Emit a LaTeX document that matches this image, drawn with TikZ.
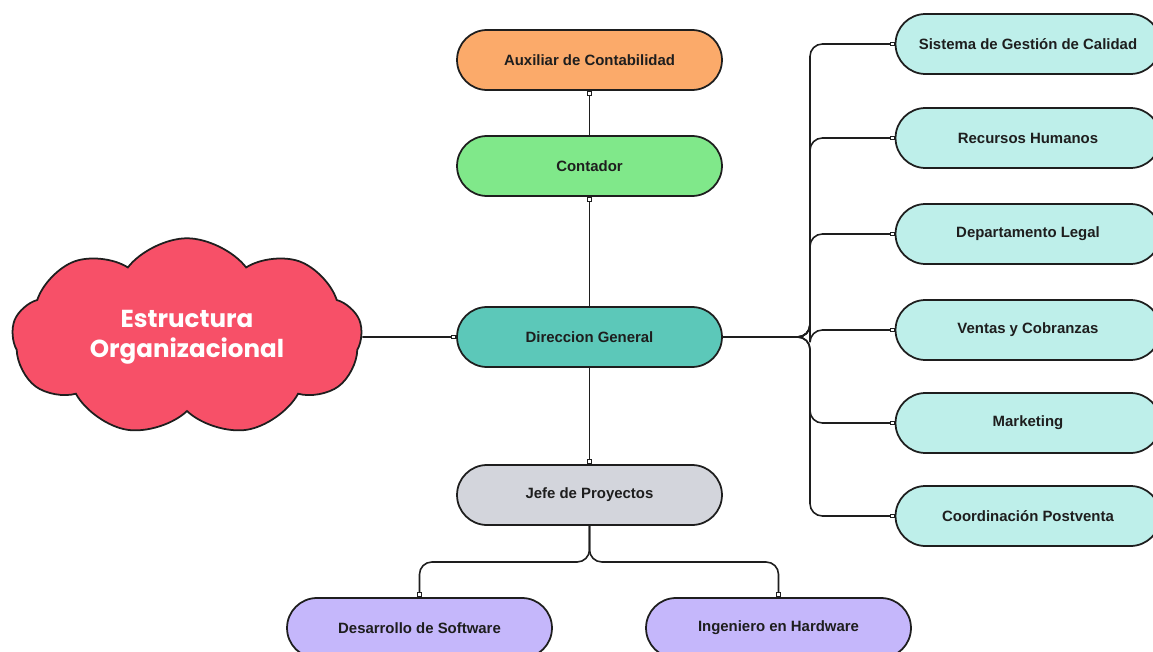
\documentclass[tikz,border=0pt]{standalone}
\usepackage{fontspec}
\setmainfont{Liberation Sans}
\newfontfamily\cloudfont{Poppins}
\usetikzlibrary{shapes.misc,shapes.symbols,arrows.meta}
\definecolor{cAux}{HTML}{FBAA6A}
\definecolor{cCon}{HTML}{80E88A}
\definecolor{cDir}{HTML}{5CC8B9}
\definecolor{cRight}{HTML}{BEEFEA}
\definecolor{cJefe}{HTML}{D3D5DC}
\definecolor{cPurp}{HTML}{C5B7FB}
\definecolor{cCloud}{HTML}{F75068}
\definecolor{cLine}{HTML}{1E1E1E}
\tikzset{
  pill/.style={rounded rectangle, draw=cLine, line width=1pt, minimum width=5.3cm, minimum height=1.2cm, inner sep=0pt, font=\fontsize{8.5}{10}\selectfont\bfseries, text=cLine},
  conn/.style={draw=cLine, line width=0.9pt, rounded corners=7pt, -{Square[open,length=2.8pt,width=2.8pt,fill=white,line width=0.6pt]}},
}
\begin{document}
\begin{tikzpicture}[x=0.02cm,y=-0.02cm]
\useasboundingbox (0,0) rectangle (1153,652);
\fill[white] (0,0) rectangle (1153,652);
\node[cloud, cloud puffs=9, cloud puff arc=105, aspect=1.9, draw=cLine, line width=1pt, fill=cCloud, minimum width=7.0cm, minimum height=3.95cm, text=white, align=center, font=\cloudfont\fontsize{14}{17}\selectfont\bfseries] (cl) at (187,337) {Estructura\\Organizacional};
\node[pill, fill=cAux] (aux) at (589.5,60) {Auxiliar de Contabilidad};
\node[pill, fill=cCon] (con) at (589.5,166) {Contador};
\node[pill, fill=cDir] (dir) at (589.5,337) {Direccion General};
\node[pill, fill=cJefe] (jefe) at (589.5,495) {Jefe de Proyectos};
\node[pill, fill=cPurp] (soft) at (419.5,628) {Desarrollo de Software};
\node[pill, fill=cPurp] (hard) at (778.5,628) {Ingeniero en Hardware};
\node[pill, fill=cRight] (sis) at (1028,44) {Sistema de Gestión de Calidad};
\node[pill, fill=cRight] (rh) at (1028,138) {Recursos Humanos};
\node[pill, fill=cRight] (leg) at (1028,234) {Departamento Legal};
\node[pill, fill=cRight] (ven) at (1028,330) {Ventas y Cobranzas};
\node[pill, fill=cRight] (mkt) at (1028,423) {Marketing};
\node[pill, fill=cRight] (post) at (1028,516) {Coordinación Postventa};
\coordinate (trunk) at (810,337);
\coordinate (split) at (589.5,562);
\draw[conn] (cl.east) -- (dir.west);
\draw[conn] (con.north) -- (aux.south);
\draw[conn] (dir.north) -- (con.south);
\draw[conn] (dir.south) -- (jefe.north);
\foreach \t in {sis,rh,leg,ven,mkt,post}{
  \draw[conn] (dir.east) -- (trunk) |- (\t.west);
}
\draw[conn] (jefe.south) -- (split) -| (soft.north);
\draw[conn] (jefe.south) -- (split) -| (hard.north);
\end{tikzpicture}
\end{document}
